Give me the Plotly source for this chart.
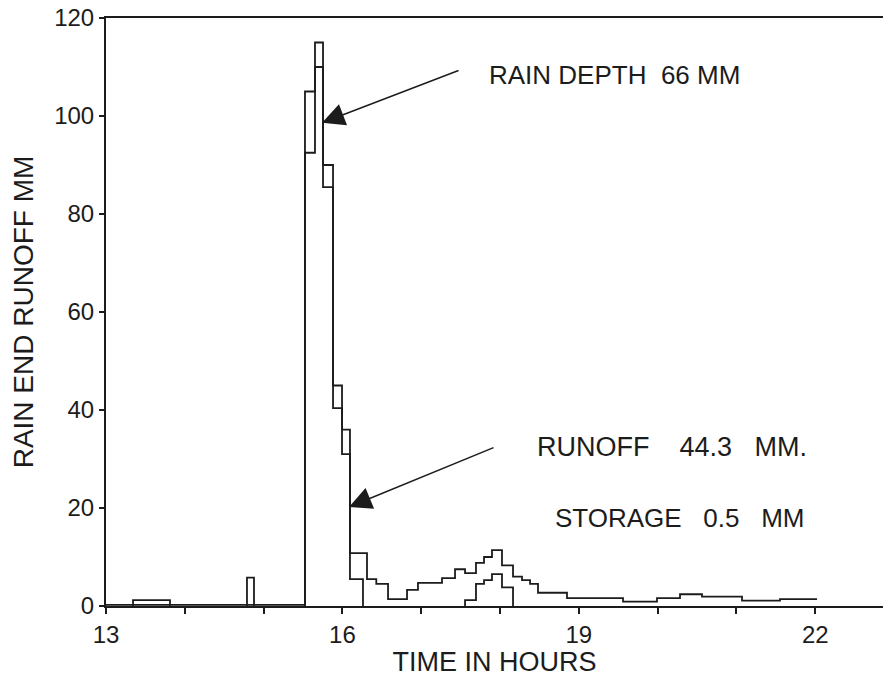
import plotly.graph_objects as go

# ---- data ----
# rain hyetograph: interval start/end times (hours) and intensity (mm)
rain_start = [13.343, 14.789, 15.525, 15.652, 15.754, 15.881, 15.995, 16.096, 17.556, 17.695, 17.797, 17.898, 18.025]
rain_end   = [13.812, 14.878, 15.652, 15.754, 15.881, 15.995, 16.096, 16.261, 17.695, 17.797, 17.898, 18.025, 18.165]
rain_value = [1.2, 5.8, 105, 115, 90, 45, 36, 5.5, 1.2, 4.5, 5.3, 6.5, 3.8]

# runoff hydrograph: step boundaries (hours) and values (mm)
runoff_time = [13.0, 15.525, 15.652, 15.754, 15.881, 15.995, 16.096, 16.312, 16.43, 16.579,
               16.82, 16.959, 17.264, 17.429, 17.556, 17.695, 17.797, 17.898, 18.025, 18.165,
               18.279, 18.381, 18.482, 18.85, 19.561, 19.992, 20.284, 20.563, 21.071, 21.553, 22.023]
runoff_value = [0.25, 92.5, 110, 85.5, 40.4, 31, 10.8, 5.5, 4.5, 1.4,
                3.3, 4.7, 5.7, 7.5, 6.7, 8.8, 10.0, 11.4, 8.3, 6.0,
                5.3, 4.5, 2.7, 1.6, 0.9, 1.6, 2.4, 1.9, 1.1, 1.4]

x_ticks = [13, 14, 15, 16, 17, 18, 19, 20, 21, 22]
x_ticktext = ["13", "", "", "16", "", "", "19", "", "", "22"]
y_ticks = [0, 20, 40, 60, 80, 100, 120]

# ---- build step polylines ----
rx, ry = [], []
prev_end = None
for s, e, v in zip(rain_start, rain_end, rain_value):
    if prev_end is not None and abs(s - prev_end) < 1e-6:
        rx += [s, e]
        ry += [v, v]
    else:
        if prev_end is not None:
            rx.append(prev_end); ry.append(0)
            rx.append(None); ry.append(None)
        rx += [s, s, e]
        ry += [0, v, v]
    prev_end = e
rx.append(prev_end); ry.append(0)

ox, oy = [], []
for i, v in enumerate(runoff_value):
    ox += [runoff_time[i], runoff_time[i + 1]]
    oy += [v, v]

ink = "#1c1c1c"
fig = go.Figure()
fig.add_trace(go.Scatter(x=rx, y=ry, mode="lines", line=dict(color=ink, width=1.8),
                         connectgaps=False, hoverinfo="skip", showlegend=False))
fig.add_trace(go.Scatter(x=ox, y=oy, mode="lines", line=dict(color=ink, width=1.8),
                         hoverinfo="skip", showlegend=False))

font = "Liberation Sans, Arial, Helvetica, sans-serif"
nb = "\u00a0"
fig.add_annotation(x=15.741, y=98.6, ax=138, ay=-53, text="", showarrow=True,
                   arrowhead=2, arrowsize=3, arrowwidth=1.5, arrowcolor=ink)
fig.add_annotation(x=16.084, y=20.2, ax=146, ay=-60, text="", showarrow=True,
                   arrowhead=2, arrowsize=3, arrowwidth=1.5, arrowcolor=ink)
fig.add_annotation(x=17.835, y=108.4, text="RAIN DEPTH" + nb * 2 + "66" + nb + "MM", showarrow=False,
                   xanchor="left", yanchor="middle", font=dict(size=26, color=ink, family=font))
fig.add_annotation(x=18.444, y=32.4, text="RUNOFF" + nb * 4 + "44.3" + nb * 3 + "MM.", showarrow=False,
                   xanchor="left", yanchor="middle", font=dict(size=27, color=ink, family=font))
fig.add_annotation(x=18.673, y=18.0, text="STORAGE" + nb * 3 + "0.5" + nb * 3 + "MM", showarrow=False,
                   xanchor="left", yanchor="middle", font=dict(size=26, color=ink, family=font))

fig.update_layout(
    width=883, height=677,
    margin=dict(l=106, r=0, t=18, b=71),
    paper_bgcolor="white", plot_bgcolor="white",
    font=dict(family=font, color=ink),
    xaxis=dict(range=[13, 22.86], tickmode="array", tickvals=x_ticks, ticktext=x_ticktext,
               ticks="outside", ticklen=6, tickwidth=1.5, tickcolor=ink,
               showline=True, linecolor=ink, linewidth=2, mirror=True, automargin=False,
               showgrid=False, zeroline=False, tickfont=dict(size=24),
               title=dict(text="TIME IN HOURS", font=dict(size=27), standoff=6)),
    yaxis=dict(range=[0, 120], tickmode="array", tickvals=y_ticks,
               ticks="outside", ticklen=5, tickwidth=1.5, tickcolor=ink,
               showline=True, linecolor=ink, linewidth=2, automargin=False,
               showgrid=False, zeroline=False, tickfont=dict(size=24),
               title=dict(text="RAIN END RUNOFF MM", font=dict(size=28), standoff=12)),
)

fig.write_html("out.html", config={"displayModeBar": False},
               post_script="document.body.style.margin='0';document.body.style.overflow='hidden';")
